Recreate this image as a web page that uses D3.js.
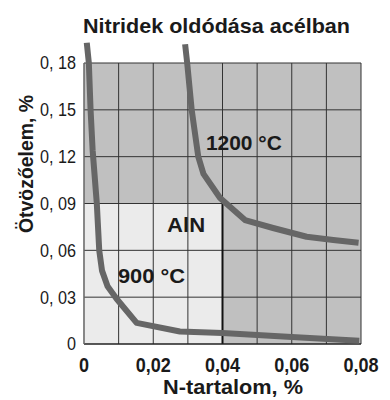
<!DOCTYPE html>
<html>
<head>
<meta charset="utf-8">
<script src="https://cdn.jsdelivr.net/npm/d3@7"></script>
<style>
  body { margin: 0; background: #fff; }
  text { font-family: "Liberation Sans", Arial, sans-serif; fill: #1a1a1a; }
</style>
</head>
<body>
<svg id="chart"></svg>
<script>
// data
var xTicks = [0, 0.02, 0.04, 0.06, 0.08];
var xTickLabels = ["0", "0,02", "0,04", "0,06", "0,08"];
var yTicks = [0, 0.03, 0.06, 0.09, 0.12, 0.15, 0.18];
var yTickLabels = ["0", "0, 03", "0, 06", "0, 09", "0, 12", "0, 15", "0, 18"];
var xGrid = [0.01, 0.02, 0.03, 0.04, 0.05, 0.06, 0.07, 0.08];
var yGrid = [0.03, 0.06, 0.09, 0.12, 0.15, 0.18];

// AlN region (light)
var alnX = [0, 0.04];
var alnY = [0, 0.09];

var curve900 = [[0.0008, 0.193], [0.0014, 0.18], [0.0019, 0.15], [0.0025, 0.124], [0.0037, 0.09],
  [0.0044, 0.06], [0.0052, 0.047], [0.0068, 0.037], [0.0094, 0.029], [0.0152, 0.0135],
  [0.0277, 0.008], [0.04, 0.007], [0.06, 0.0045], [0.0795, 0.0021]];
var curve1200 = [[0.0292, 0.192], [0.0298, 0.18], [0.0311, 0.15], [0.033, 0.12], [0.0345, 0.109],
  [0.0393, 0.0935], [0.0465, 0.0794], [0.0546, 0.0743], [0.0643, 0.0687], [0.072, 0.0666],
  [0.0793, 0.0649]];

var labels = [
  { text: "1200 °C", x: 0.0352, y: 0.1243, len: 76 },
  { text: "AlN", x: 0.024, y: 0.072, len: 38 },
  { text: "900 °C", x: 0.0098, y: 0.039, len: 67 }
];

var width = 390;
var height = 400;
var margin = { top: 63, right: 29, bottom: 56, left: 84 };
var chartWidth = width - margin.left - margin.right;
var chartHeight = height - margin.top - margin.bottom;

var svg = d3.select("#chart").attr("width", width).attr("height", height);

var x = d3.scaleLinear().domain([0, 0.08]).range([margin.left, margin.left + chartWidth]);
var y = d3.scaleLinear().domain([0, 0.18]).range([margin.top + chartHeight, margin.top]);

// background
svg.append("rect")
  .attr("x", x(0)).attr("y", y(0.18))
  .attr("width", x(0.08) - x(0)).attr("height", y(0) - y(0.18))
  .attr("fill", "#c0c0c0");

svg.append("rect")
  .attr("x", x(alnX[0]) - 1).attr("y", y(alnY[1]))
  .attr("width", x(alnX[1]) - x(alnX[0]) + 1).attr("height", y(alnY[0]) - y(alnY[1]))
  .attr("fill", "#ebebeb");

// grid
svg.selectAll(".vgrid")
  .data(xGrid)
  .enter().append("line")
  .attr("class", "vgrid")
  .attr("x1", d => x(d)).attr("x2", d => x(d))
  .attr("y1", y(0)).attr("y2", y(0.18))
  .attr("stroke", "#333")
  .attr("stroke-width", 1);

svg.selectAll(".hgrid")
  .data(yGrid)
  .enter().append("line")
  .attr("class", "hgrid")
  .attr("x1", x(0)).attr("x2", x(0.08))
  .attr("y1", d => y(d)).attr("y2", d => y(d))
  .attr("stroke", "#333")
  .attr("stroke-width", 1);

// AlN border on the right side
svg.append("line")
  .attr("x1", x(alnX[1])).attr("x2", x(alnX[1]))
  .attr("y1", y(0)).attr("y2", y(alnY[1]))
  .attr("stroke", "#111")
  .attr("stroke-width", 2);

// axes lines
svg.append("line")
  .attr("x1", x(0)).attr("x2", x(0.08))
  .attr("y1", y(0)).attr("y2", y(0))
  .attr("stroke", "#222").attr("stroke-width", 1.5);
svg.append("line")
  .attr("x1", x(0)).attr("x2", x(0))
  .attr("y1", y(0)).attr("y2", y(0.18))
  .attr("stroke", "#666").attr("stroke-width", 1.5);

// curves
var line = d3.line()
  .x(d => x(d[0]))
  .y(d => y(d[1]));

[curve900, curve1200].forEach(function (c) {
  svg.append("path")
    .datum(c)
    .attr("d", line)
    .attr("fill", "none")
    .attr("stroke", "#666")
    .attr("stroke-width", 6)
    .attr("stroke-linejoin", "round");
});

// tick labels (narrowed Liberation Sans, looks like Arial Narrow)
svg.selectAll(".ylab")
  .data(yTicks)
  .enter().append("text")
  .attr("class", "ylab")
  .attr("transform", d => `translate(76,${y(d)}) scale(0.9,1)`)
  .attr("dy", "0.36em")
  .attr("text-anchor", "end")
  .attr("font-size", "18px")
  .text((d, i) => yTickLabels[i]);

svg.selectAll(".xlab")
  .data(xTicks)
  .enter().append("text")
  .attr("class", "xlab")
  .attr("transform", d => `translate(${x(d)},372) scale(0.86,1)`)
  .attr("text-anchor", "middle")
  .attr("font-size", "21px")
  .attr("font-weight", "bold")
  .text((d, i) => xTickLabels[i]);

// in-plot labels
svg.selectAll(".lbl")
  .data(labels)
  .enter().append("text")
  .attr("class", "lbl")
  .attr("x", d => x(d.x))
  .attr("y", d => y(d.y))
  .attr("font-size", "21px")
  .attr("font-weight", "bold")
  .attr("textLength", d => d.len)
  .attr("lengthAdjust", "spacingAndGlyphs")
  .text(d => d.text);

// titles
svg.append("text")
  .attr("x", 83)
  .attr("y", 33)
  .attr("font-size", "21px")
  .attr("font-weight", "bold")
  .attr("textLength", 267)
  .attr("lengthAdjust", "spacingAndGlyphs")
  .text("Nitridek oldódása acélban");

svg.append("text")
  .attr("x", 163)
  .attr("y", 394)
  .attr("font-size", "21px")
  .attr("font-weight", "bold")
  .attr("textLength", 140)
  .attr("lengthAdjust", "spacingAndGlyphs")
  .text("N-tartalom, %");

svg.append("text")
  .attr("transform", "translate(33,233) rotate(-90)")
  .attr("font-size", "21px")
  .attr("font-weight", "bold")
  .attr("textLength", 138)
  .attr("lengthAdjust", "spacingAndGlyphs")
  .text("Ötvözőelem, %");
</script>
</body>
</html>
